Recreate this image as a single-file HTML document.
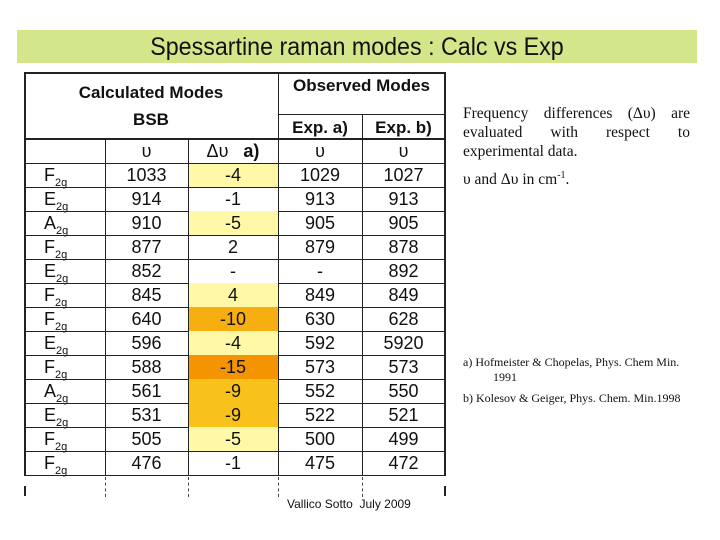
<!DOCTYPE html>
<html><head><meta charset="utf-8">
<style>
body{margin:0;width:720px;height:540px;background:#fff;position:relative;overflow:hidden;font-family:"Liberation Sans",sans-serif}
.a{position:absolute}
.c{position:absolute;text-align:center;font-size:18px;line-height:24px;color:#111}
.hl{position:absolute;height:1px;background:#222}
.vl{position:absolute;width:1px;background:#222}
.r{position:absolute;left:463px;width:227px;font-family:"Liberation Serif",serif;color:#111}
</style></head><body>
<div class="a" style="left:17px;top:30px;width:680px;height:33px;background:#d3e78a"></div>
<div class="a" style="left:17px;top:30px;width:680px;height:33px;line-height:35px;text-align:center;font-size:25px;color:#111;transform:scaleX(0.93)">Spessartine raman modes : Calc vs Exp</div>
<div id="tbl"></div>
<div class="r" style="top:104px;font-size:15.5px;line-height:19px;text-align:justify">Frequency differences (Δυ) are evaluated with respect to experimental data.<div style="margin-top:5px">υ and Δυ in cm<sup style="font-size:10px">-1</sup>.</div></div>
<div class="r" style="top:355px;font-size:12px;line-height:15px">a) Hofmeister &amp; Chopelas, Phys. Chem Min.<br><span style="padding-left:30px">1991</span><div style="margin-top:6px">b) Kolesov &amp; Geiger, Phys. Chem. Min.1998</div></div>
<div class="a" style="left:287px;top:497px;font-size:12px;color:#111">Vallico Sotto&nbsp; July 2009</div>
<script>
const modes=["F","E","A","F","E","F","F","E","F","A","E","F","F"];
const calc=["1033","914","910","877","852","845","640","596","588","561","531","505","476"];
const delta=["-4","-1","-5","2","-","4","-10","-4","-15","-9","-9","-5","-1"];
const expA=["1029","913","905","879","-","849","630","592","573","552","522","500","475"];
const expB=["1027","913","905","878","892","849","628","5920","573","550","521","499","472"];
const colX=[24,105,188,278,362,445];
const top0=163,rh=24;
function bg(v){const n=Math.abs(parseFloat(v));if(isNaN(n)||n<4)return null;if(n>=15)return"#f39400";if(n>=10)return"#f7ae10";if(n>=9)return"#f9c21a";return"#fff8a6";}
const t=document.getElementById('tbl');
function add(cls,style,txt,name){const d=document.createElement('div');d.className=cls;d.style.cssText=style;if(txt!=null)d.innerHTML=txt;


t.appendChild(d);return d;}
for(let i=0;i<calc.length;i++){
 const y=top0+i*rh;const b=bg(delta[i]);
 if(b)add('a',`left:${colX[2]}px;top:${y}px;width:${colX[3]-colX[2]}px;height:${rh}px;background:${b}`,null,'delta-highlight');
 add('c',`left:${colX[0]+20}px;top:${y}px;width:40px;text-align:left`,modes[i]+'<sub style="font-size:11px;vertical-align:-5px">2g</sub>','mode-label');
 add('c',`left:${colX[1]}px;top:${y}px;width:${colX[2]-colX[1]}px`,calc[i],'calc-value');
 add('c',`left:${colX[2]}px;top:${y}px;width:${colX[3]-colX[2]}px`,delta[i],'delta-value');
 add('c',`left:${colX[3]}px;top:${y}px;width:${colX[4]-colX[3]}px`,expA[i],'exp-a-value');
 add('c',`left:${colX[4]}px;top:${y}px;width:${colX[5]-colX[4]}px`,expB[i],'exp-b-value');
 add('hl',`left:${colX[0]}px;top:${y+rh}px;width:${colX[5]-colX[0]}px`,null,'row-line');
}
add('c',`left:${colX[1]}px;top:139px;width:83px`,'υ','nu-header');
add('c',`left:${colX[2]}px;top:139px;width:90px`,'Δυ&nbsp;&nbsp; <b>a)</b>','delta-header');
add('c',`left:${colX[3]}px;top:139px;width:84px`,'υ','nu-header');
add('c',`left:${colX[4]}px;top:139px;width:83px`,'υ','nu-header');
add('hl',`left:24px;top:${top0}px;width:421px`,null,'row-line');
add('hl',`left:24px;top:138px;width:421px;height:2px`,null,'header-line');
add('hl',`left:278px;top:114px;width:167px`,null,'header-line');
add('hl',`left:24px;top:72px;width:421px;height:2px`,null,'top-border');
add('c',`left:24px;top:81px;width:254px;font-weight:bold;font-size:17px`,'Calculated Modes','calc-header');
add('c',`left:24px;top:108px;width:254px;font-weight:bold;font-size:17px`,'BSB','bsb-header');
add('c',`left:278px;top:74px;width:167px;font-weight:bold;font-size:17px`,'Observed Modes','obs-header');
add('c',`left:278px;top:116px;width:84px;font-weight:bold;font-size:17px`,'Exp. a)','exp-a-header');
add('c',`left:362px;top:116px;width:83px;font-weight:bold;font-size:17px`,'Exp. b)','exp-b-header');
add('vl',`left:24px;top:72px;height:404px;width:2px`,null,'left-border');
add('vl',`left:444px;top:72px;height:404px;width:2px`,null,'right-border');
add('vl',`left:278px;top:72px;height:404px`,null,'col-line');
add('vl',`left:362px;top:114px;height:362px`,null,'col-line');
add('vl',`left:105px;top:139px;height:337px`,null,'col-line');
add('vl',`left:188px;top:139px;height:337px`,null,'col-line');
for(const x of [105,188,278,362])add('a',`left:${x}px;top:477px;height:20px;border-left:1px dashed #444`,null,'dashed-line');
add('vl',`left:24px;top:486px;height:10px;width:2px`,null,'border-tick');
add('vl',`left:444px;top:486px;height:10px;width:2px`,null,'border-tick');
</script>
</body></html>
